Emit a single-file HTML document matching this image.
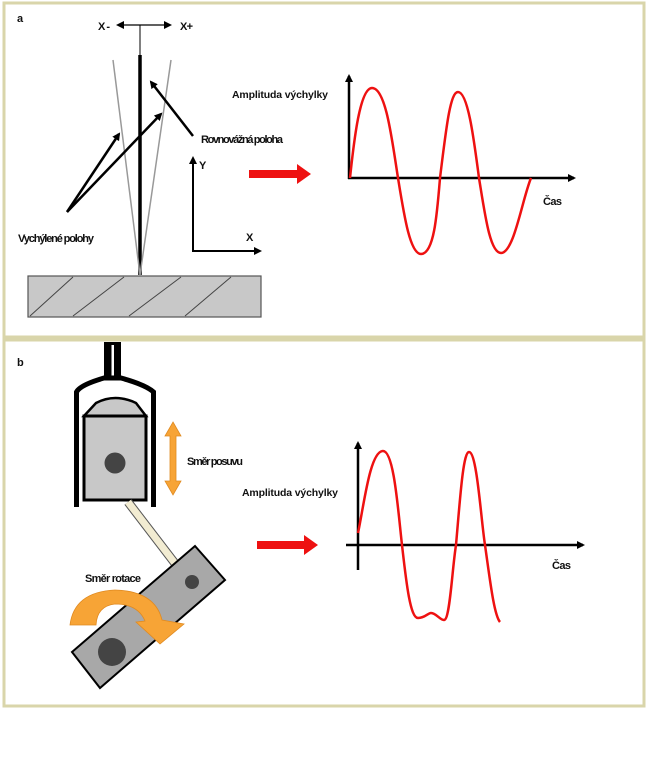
<!DOCTYPE html>
<html><head><meta charset="utf-8"><style>
html,body{margin:0;padding:0;background:#fff;}
svg{display:block;}
text{font-family:"Liberation Sans",sans-serif;fill:#111;}
.n{font-size:11px;font-weight:600;}
.b{font-size:10.5px;font-weight:bold;}
</style></head><body>
<svg width="650" height="769" viewBox="0 0 650 769" xmlns="http://www.w3.org/2000/svg">
<defs>
<marker id="ah" markerWidth="8" markerHeight="8" refX="6" refY="4" orient="auto" markerUnits="userSpaceOnUse">
<path d="M0,0 L8,4 L0,8 Z" fill="#000"/></marker>
</defs>
<rect x="4" y="3" width="640" height="334" fill="#fff" stroke="#d9d5aa" stroke-width="3"/>
<rect x="4" y="340" width="640" height="366" fill="#fff" stroke="#d9d5aa" stroke-width="3"/>

<text x="17" y="22" class="n" font-weight="bold" font-size="10">a</text>
<text x="98" y="30" class="n" textLength="12">X-</text>
<text x="180" y="30" class="n" textLength="13">X+</text>
<line x1="140" y1="25" x2="118" y2="25" stroke="#000" stroke-width="1.2" marker-end="url(#ah)"/>
<line x1="140" y1="25" x2="170" y2="25" stroke="#000" stroke-width="1.2" marker-end="url(#ah)"/>
<line x1="140" y1="25" x2="140" y2="56" stroke="#000" stroke-width="1"/>
<line x1="140" y1="55" x2="140" y2="275" stroke="#000" stroke-width="3.5"/>
<line x1="140" y1="275" x2="113" y2="60" stroke="#999" stroke-width="1.5"/>
<line x1="140" y1="275" x2="171" y2="60" stroke="#999" stroke-width="1.5"/>
<line x1="67" y1="212" x2="119" y2="134" stroke="#000" stroke-width="2.5" marker-end="url(#ah)"/>
<line x1="67" y1="212" x2="161" y2="114" stroke="#000" stroke-width="2.5" marker-end="url(#ah)"/>
<line x1="193" y1="136" x2="151" y2="82" stroke="#000" stroke-width="2.5" marker-end="url(#ah)"/>
<text x="201" y="143" class="n" textLength="82">Rovnovážná poloha</text>
<text x="18" y="242" class="n" textLength="76">Vychýlené polohy</text>
<rect x="28" y="276" width="233" height="41" fill="#c8c8c8" stroke="#555" stroke-width="1.2"/>
<g stroke="#444" stroke-width="1">
<line x1="30" y1="316" x2="73" y2="277"/>
<line x1="73" y1="316" x2="124" y2="277"/>
<line x1="129" y1="316" x2="181" y2="277"/>
<line x1="185" y1="316" x2="231" y2="277"/>
</g>
<line x1="193" y1="251" x2="193" y2="158" stroke="#000" stroke-width="2" marker-end="url(#ah)"/>
<line x1="192" y1="251" x2="260" y2="251" stroke="#000" stroke-width="2" marker-end="url(#ah)"/>
<text x="199" y="169" class="n" textLength="7">Y</text>
<text x="246" y="241" class="n" textLength="7">X</text>
<path d="M249,170 L297,170 L297,164 L311,174 L297,184 L297,178 L249,178 Z" fill="#ee1111"/>
<text x="232" y="98" class="b" textLength="96">Amplituda výchylky</text>
<line x1="349" y1="179" x2="349" y2="76" stroke="#000" stroke-width="2.5" marker-end="url(#ah)"/>
<line x1="348" y1="178" x2="574" y2="178" stroke="#000" stroke-width="2.5" marker-end="url(#ah)"/>
<path d="M350,178 C354,140 360,88 372,88 C386,88 392,140 398,178 C404,215 410,254 421,254 C434,254 437,215 440,178 C446,130 450,92 458,92 C468,92 474,140 479,178 C485,215 490,253 501,253 C514,253 522,200 531,178" fill="none" stroke="#ee1111" stroke-width="2.5"/>
<text x="543" y="205" class="n" textLength="19">Čas</text>

<text x="17" y="366" class="n" font-weight="bold" font-size="10">b</text>
<rect x="104" y="342" width="17" height="36" fill="#000"/>
<rect x="111.5" y="345" width="2.5" height="31" fill="#fff"/>
<path d="M76.5,507 L76.5,392 Q80,385 104,378 L121,378 Q146,385 153.5,392 L153.5,507" fill="none" stroke="#000" stroke-width="5"/>
<path d="M84,416 L96,403 Q115,393 136,403 L146,416 Z" fill="#c8c8c8" stroke="#000" stroke-width="2.5"/>
<rect x="84" y="416" width="62" height="84" fill="#c8c8c8" stroke="#000" stroke-width="3"/>
<circle cx="115" cy="463" r="10.5" fill="#444"/>
<line x1="128" y1="502" x2="177" y2="566" stroke="#555" stroke-width="9"/>
<line x1="128" y1="502" x2="177" y2="566" stroke="#f2ecd2" stroke-width="7"/>
<polygon points="195,546 225,580 100,688 72,652" fill="#a8a8a8" stroke="#000" stroke-width="2"/>
<circle cx="192" cy="582" r="7" fill="#444"/>
<circle cx="112" cy="652" r="14" fill="#444"/>
<path d="M70,625 Q74,592 115,590 Q155,591 162,620 L184,624 L160,644 L136,622 L145,621 Q138,604 115,604 Q97,606 96,625 Z" fill="#f7a436" stroke="#e08a20" stroke-width="0.8"/>
<path d="M173,422 L181,436 L176,436 L176,481 L181,481 L173,495 L165,481 L170,481 L170,436 L165,436 Z" fill="#f7a436" stroke="#e08a20" stroke-width="0.8"/>
<text x="187" y="465" class="n" textLength="56">Směr posuvu</text>
<text x="85" y="582" class="n" textLength="56">Směr rotace</text>
<path d="M257,541 L304,541 L304,535 L318,545 L304,555 L304,549 L257,549 Z" fill="#ee1111"/>
<text x="242" y="496" class="b" textLength="96">Amplituda výchylky</text>
<line x1="358" y1="570" x2="358" y2="443" stroke="#000" stroke-width="2.5" marker-end="url(#ah)"/>
<line x1="346" y1="545" x2="583" y2="545" stroke="#000" stroke-width="2.5" marker-end="url(#ah)"/>
<path d="M358,533 C364,505 370,451 383,451 C394,451 398,510 402,545 C406,580 410,618 418,618 C425,618 428,613 431,613 C436,613 440,620 444,620 C450,620 452,570 456,545 C460,500 463,452 469,452 C477,452 481,520 485,545 C490,580 494,615 500,622" fill="none" stroke="#ee1111" stroke-width="2.5"/>
<text x="552" y="569" class="n" textLength="19">Čas</text>
</svg>
</body></html>
